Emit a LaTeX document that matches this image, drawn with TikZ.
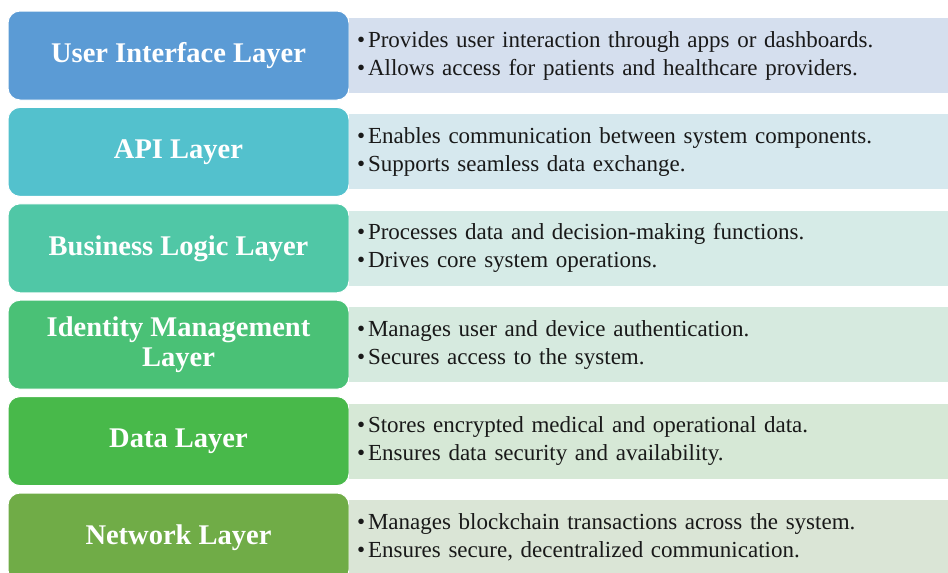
\documentclass[tikz,border=0pt]{standalone}
\usepackage{fontspec}
\setmainfont{Liberation Serif}
\usepackage{xcolor}
\usetikzlibrary{positioning}

% layer fills and their note panels
\definecolor{uifill}{HTML}{5B9BD5}
\definecolor{uinote}{HTML}{D5DFEE}
\definecolor{apifill}{HTML}{53C1CD}
\definecolor{apinote}{HTML}{D6E8EE}
\definecolor{logicfill}{HTML}{50C7A6}
\definecolor{logicnote}{HTML}{D6EBE7}
\definecolor{idfill}{HTML}{4AC176}
\definecolor{idnote}{HTML}{D6EADF}
\definecolor{datafill}{HTML}{48B94A}
\definecolor{datanote}{HTML}{D6E8D6}
\definecolor{netfill}{HTML}{70AC47}
\definecolor{netnote}{HTML}{DAE5D6}

\newcommand{\pt}{\textbullet\hspace{3pt}}

\begin{document}
\begin{tikzpicture}[x=1pt, y=-1pt,
    layerbox/.style={draw=white, line width=1pt, rounded corners=12pt,
        minimum width=341pt, minimum height=89pt, outer sep=0pt, inner sep=2pt,
        align=center, text=white, font=\fontsize{28.5}{30}\selectfont\bfseries},
    notebox/.style={minimum height=75pt, text width=600pt, inner xsep=8pt,
        outer sep=0pt, align=left, text=black!90,
        font=\fontsize{23}{28}\selectfont}]

    \useasboundingbox (0,0) rectangle (948,573);

    % Layer stack
    \node[layerbox, fill=uifill] (ui) at (178.5,55.5) {User Interface Layer};
    \node[layerbox, fill=apifill, below=7.4pt of ui] (api) {API Layer};
    \node[layerbox, fill=logicfill, below=7.4pt of api] (logic) {Business Logic Layer};
    \node[layerbox, fill=idfill, below=7.4pt of logic] (id) {Identity Management\\Layer};
    \node[layerbox, fill=datafill, below=7.4pt of id] (data) {Data Layer};
    \node[layerbox, fill=netfill, below=7.4pt of data] (net) {Network Layer};

    % Notes
    \begin{scope}[every node/.append style={notebox}]
        \node[fill=uinote, right=0pt of ui] (uitext)
            {\pt Provides user interaction through apps or dashboards.\\
             \pt Allows access for patients and healthcare providers.};
        \node[fill=apinote, right=0pt of api] (apitext)
            {\pt Enables communication between system components.\\
             \pt Supports seamless data exchange.};
        \node[fill=logicnote, right=0pt of logic] (logictext)
            {\pt Processes data and decision-making functions.\\
             \pt Drives core system operations.};
        \node[fill=idnote, right=0pt of id] (idtext)
            {\pt Manages user and device authentication.\\
             \pt Secures access to the system.};
        \node[fill=datanote, right=0pt of data] (datatext)
            {\pt Stores encrypted medical and operational data.\\
             \pt Ensures data security and availability.};
        \node[fill=netnote, right=0pt of net] (nettext)
            {\pt Manages blockchain transactions across the system.\\
             \pt Ensures secure, decentralized communication.};
    \end{scope}
\end{tikzpicture}
\end{document}
